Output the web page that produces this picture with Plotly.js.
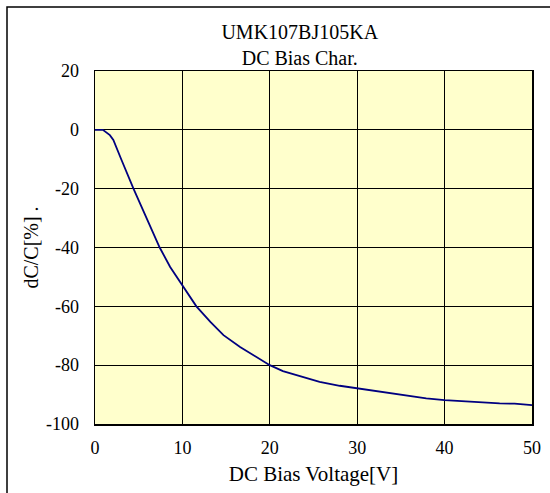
<!DOCTYPE html>
<html>
<head>
<meta charset="utf-8">
<script src="https://cdn.plot.ly/plotly-3.0.1.min.js"></script>
<style>html,body{margin:0;padding:0;background:#fff;}#chart{width:550px;height:493px;}</style>
</head>
<body>
<div id="chart"></div>
<script>
const voltage = [0, 0.9, 1.7, 2.1, 3.0, 4.4, 5.9, 7.4, 8.6, 10.1, 11.6, 13.2, 14.7, 16.6, 18.3, 20, 21.5, 23.4, 25.7, 28, 30, 33.8, 37.9, 40, 43.3, 46.3, 48, 50];
const dcPercent = [0, 0, -1.8, -3.4, -10, -20, -30, -40, -46.6, -53.4, -60, -65.3, -69.8, -73.8, -77, -80, -82, -83.7, -85.7, -87, -87.9, -89.6, -91.3, -91.9, -92.5, -93.0, -93.1, -93.6];
const xTicks = [0, 10, 20, 30, 40, 50];
const yTicks = [20, 0, -20, -40, -60, -80, -100];

const font = {family: '"Liberation Serif", "Times New Roman", serif', color: '#000'};

const trace = {
  x: voltage, y: dcPercent, type: 'scatter', mode: 'lines',
  line: {color: '#000080', width: 1.8}, hoverinfo: 'skip'
};

const layout = {
  width: 550, height: 493,
  margin: {l: 95, r: 18, t: 71, b: 69},
  paper_bgcolor: '#ffffff', plot_bgcolor: '#ffffcc',
  showlegend: false,
  font: Object.assign({size: 18}, font),
  title: {
    text: 'UMK107BJ105KA<br>DC Bias Char.',
    font: Object.assign({size: 20}, font),
    xref: 'container', yref: 'container', x: 0.545, xanchor: 'center',
    y: 0.92, yanchor: 'top'
  },
  xaxis: {
    range: [0, 50], tickvals: xTicks, ticktext: xTicks.map(String),
    showgrid: true, gridcolor: '#000', gridwidth: 1,
    zeroline: false, showline: true, linecolor: '#000', linewidth: 1.5, mirror: true,
    ticks: '', ticklabelstandoff: 7,
    tickfont: Object.assign({size: 18}, font),
    title: {text: 'DC Bias Voltage[V]', font: Object.assign({size: 21}, font), standoff: 9}
  },
  yaxis: {
    range: [-100, 20], tickvals: yTicks, ticktext: yTicks.map(String),
    showgrid: true, gridcolor: '#000', gridwidth: 1,
    zeroline: false, showline: true, linecolor: '#000', linewidth: 1.5, mirror: true,
    ticks: '', ticklabelstandoff: 11,
    tickfont: Object.assign({size: 18}, font),
    title: {text: 'dC/C[%] .', font: Object.assign({size: 20}, font), standoff: 2}
  },
  shapes: [{
    type: 'rect', xref: 'paper', yref: 'paper',
    x0: (7 - 95) / 437, x1: (553 - 95) / 437,
    y0: (424 - 497) / 353, y1: (424 - 7) / 353,
    line: {color: '#000', width: 1.5}, fillcolor: 'rgba(0,0,0,0)', layer: 'above'
  }]
};

Plotly.newPlot('chart', [trace], layout, {displayModeBar: false, staticPlot: true});
</script>
</body>
</html>
